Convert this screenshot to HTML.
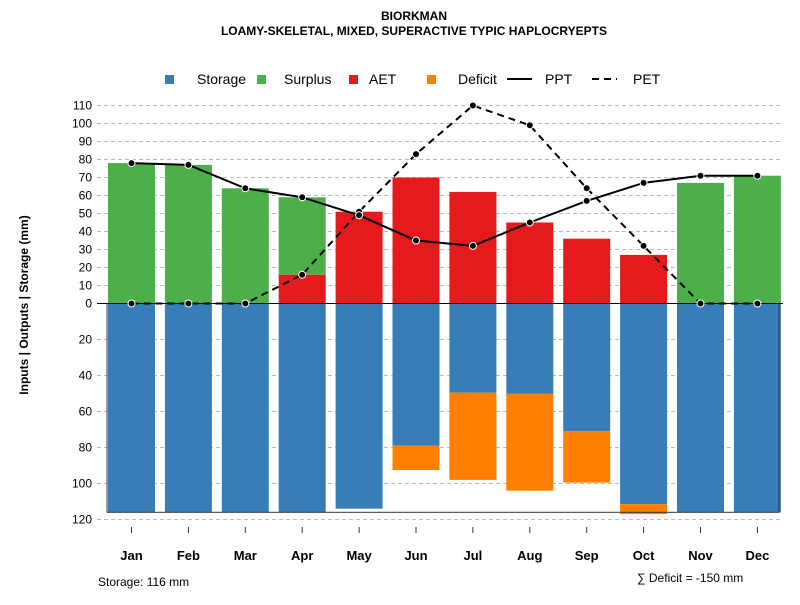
<!DOCTYPE html>
<html><head><meta charset="utf-8"><style>
body{margin:0;background:#fff}
svg text{font-family:"Liberation Sans",sans-serif}
</style></head><body>
<svg id="c" width="800" height="600" xmlns="http://www.w3.org/2000/svg">
<text x="414" y="20" text-anchor="middle" font-size="12" font-weight="bold">BIORKMAN</text>
<text x="414" y="35" text-anchor="middle" font-size="12" font-weight="bold">LOAMY-SKELETAL, MIXED, SUPERACTIVE TYPIC HAPLOCRYEPTS</text>
<g>
<rect x="165" y="75" width="9" height="9" fill="#377eb8"/>
<text x="197" y="84" font-size="14">Storage</text>
<rect x="257" y="75" width="9" height="9" fill="#4daf4a"/>
<text x="284" y="84" font-size="14">Surplus</text>
<rect x="349" y="75" width="9" height="9" fill="#e41a1c"/>
<text x="369" y="84" font-size="14">AET</text>
<rect x="427" y="75" width="9" height="9" fill="#ff7f00"/>
<text x="458" y="84" font-size="14">Deficit</text>
<line x1="507" y1="79" x2="532" y2="79" stroke="#000" stroke-width="2"/>
<text x="545" y="84" font-size="14">PPT</text>
<line x1="592" y1="79" x2="617" y2="79" stroke="#000" stroke-width="2" stroke-dasharray="7,5"/>
<text x="633" y="84" font-size="14">PET</text>
</g>
<text transform="translate(28,305) rotate(-90)" text-anchor="middle" font-size="12" font-weight="bold">Inputs | Outputs | Storage    (mm)</text>
<text x="98" y="586" font-size="12">Storage: 116 mm</text>
<text x="637" y="582" font-size="12">∑ Deficit = -150 mm</text>
<g id="g"></g>
</svg>
<script>
const months=["Jan","Feb","Mar","Apr","May","Jun","Jul","Aug","Sep","Oct","Nov","Dec"];
const storage=[116,116,116,116,114,79,49.5,50,71,111.5,116,116];
const deficit=[0,0,0,0,0,13.5,48.5,54,28.5,5.5,0,0];
const surplus=[78,77,64,43,0,0,0,0,0,0,67,71];
const aet=[0,0,0,16,51,70,62,45,36,27,0,0];
const ppt=[78,77,64,59,49,35,32,45,57,67,71,71];
const pet=[0,0,0,16,51,83,110,99,64,32,0,0];
const upTicks=[0,10,20,30,40,50,60,70,80,90,100,110];
const downTicks=[20,40,60,80,100,120];
const soilStorage=116;

const NS="http://www.w3.org/2000/svg",g=document.getElementById("g");
const y0=303.5,k=1.8;
const y=v=>y0-v*k;
const x=i=>131.5+i*56.9;
const bw=47;
function el(t,a){const e=document.createElementNS(NS,t);for(const n in a)e.setAttribute(n,a[n]);g.appendChild(e);return e;}
upTicks.forEach(t=>{
 const l=el("line",{x1:97,x2:783,y1:y(t),y2:y(t),stroke:"#bbb","stroke-dasharray":"4,3"});
 
 
 const s=el("text",{x:92,y:y(t)+4,"text-anchor":"end","font-size":"12"});s.textContent=t;
 
 
});
downTicks.forEach(t=>{
 const l=el("line",{x1:97,x2:783,y1:y(-t),y2:y(-t),stroke:"#bbb","stroke-dasharray":"4,3"});
 
 
 const s=el("text",{x:92,y:y(-t)+4,"text-anchor":"end","font-size":"12"});s.textContent=t;
 
 
});
months.forEach((m,i)=>{
 const l=x(i)-bw/2;
 let r=el("rect",{x:l,y:y(0),width:bw,height:storage[i]*k,fill:"#377eb8"});
 
 
 if(deficit[i]>0){r=el("rect",{x:l,y:y(-storage[i]),width:bw,height:deficit[i]*k,fill:"#ff7f00"});
 
 }
 if(aet[i]>0){r=el("rect",{x:l,y:y(aet[i]),width:bw,height:aet[i]*k,fill:"#e41a1c"});
 
 }
 if(surplus[i]>0){r=el("rect",{x:l,y:y(aet[i]+surplus[i]),width:bw,height:surplus[i]*k,fill:"#4daf4a"});
 
 }
 const t=el("text",{x:x(i),y:560,"text-anchor":"middle","font-size":"13","font-weight":"bold"});t.textContent=m;
 
 
 const tk=el("line",{x1:x(i),x2:x(i),y1:527,y2:533,stroke:"#333"});
 
 
});
const box=el("rect",{x:107,y:y(0),width:672,height:soilStorage*k,fill:"none",stroke:"#333","stroke-width":1});


const zl=el("line",{x1:97,x2:783,y1:y(0),y2:y(0),stroke:"#000"});


function series(d,name,dash){
 const p=el("polyline",{points:d.map((v,i)=>x(i)+","+y(v)).join(" "),fill:"none",stroke:"#000","stroke-width":2,"stroke-dasharray":dash||"none"});
 
 
 d.forEach((v,i)=>{const c=el("circle",{cx:x(i),cy:y(v),r:3.5,fill:"#000",stroke:"#fff","stroke-width":1});
 
 });
}
series(pet,"pet","7,5");
series(ppt,"ppt");
</script>
</body></html>
